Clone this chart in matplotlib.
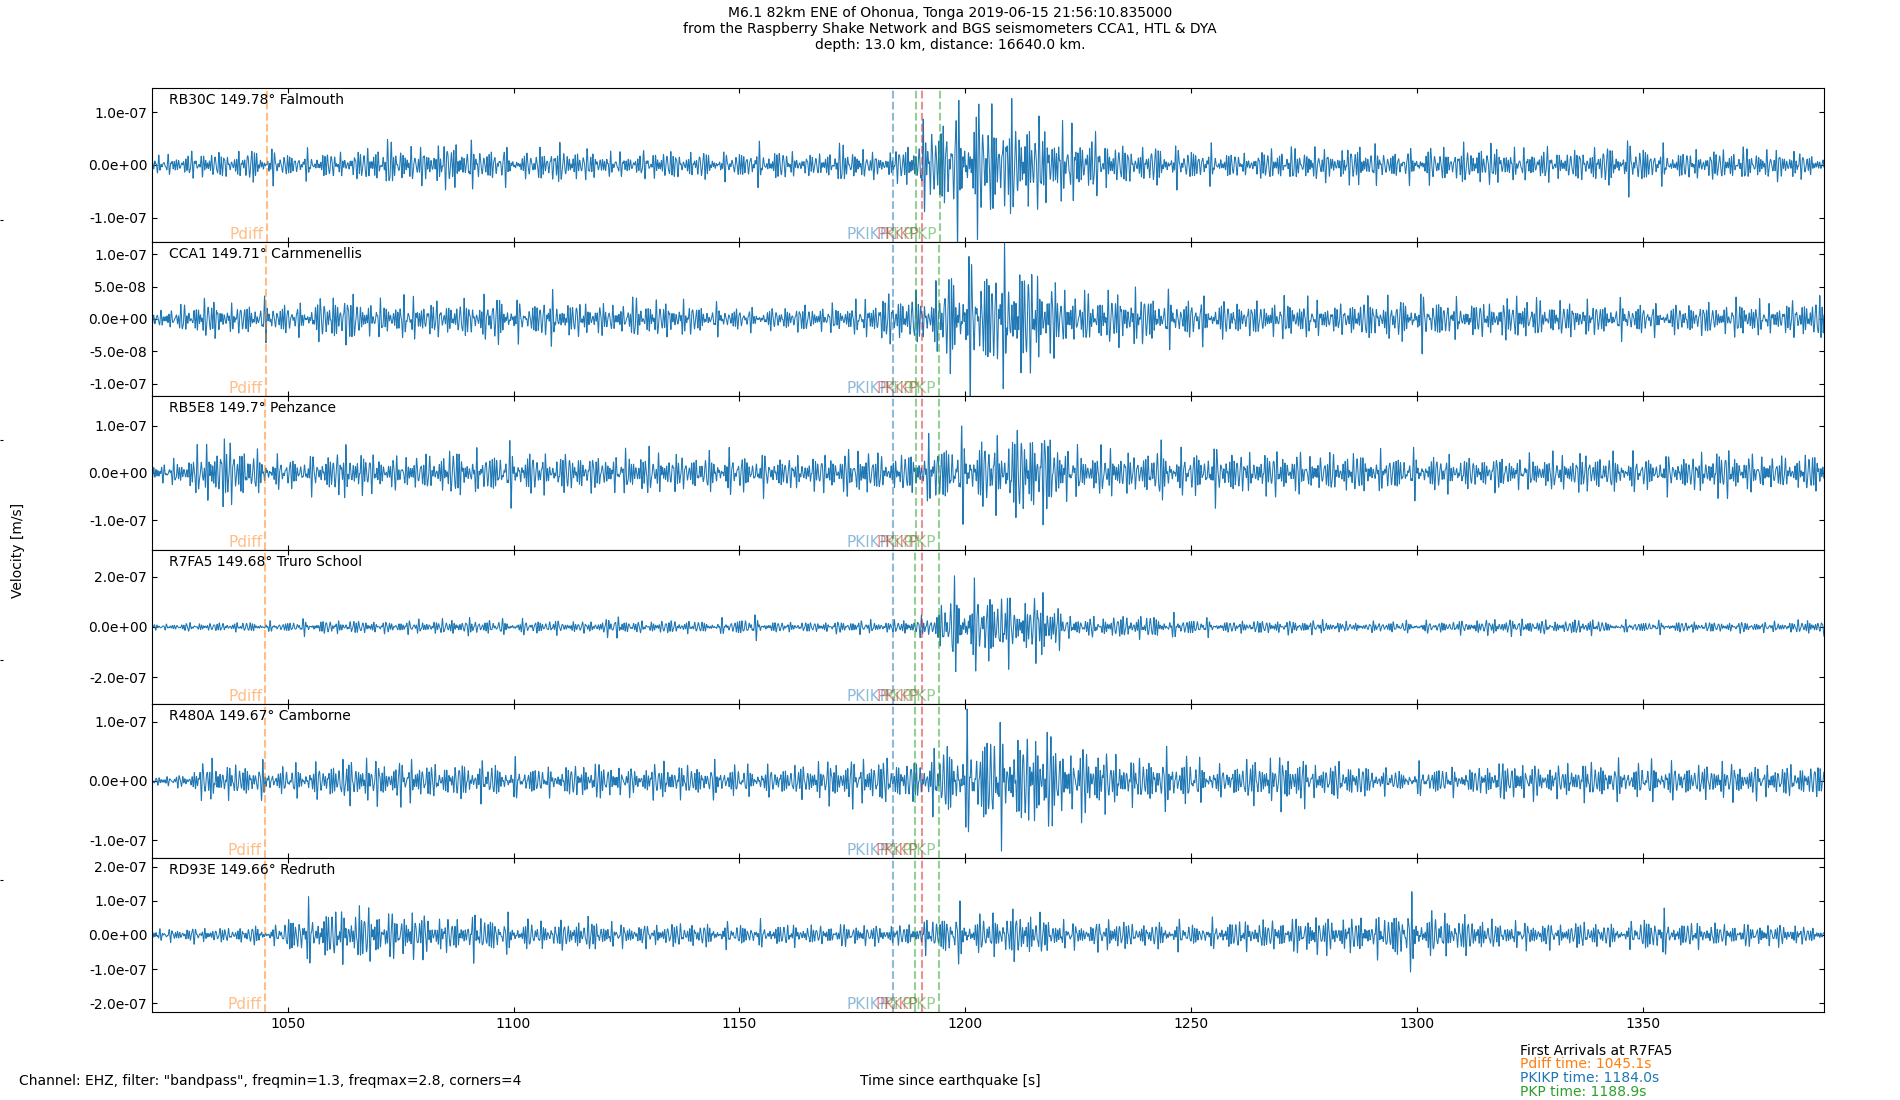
import matplotlib
matplotlib.use("Agg")
import matplotlib.pyplot as plt
import numpy as np
from matplotlib.ticker import FormatStrFormatter
from matplotlib.transforms import blended_transform_factory

# --- stations (top to bottom) ---
stations = ["RB30C", "CCA1", "RB5E8", "R7FA5", "R480A", "RD93E"]
distances = ["149.78", "149.71", "149.7", "149.68", "149.67", "149.66"]
places = ["Falmouth", "Carnmenellis", "Penzance", "Truro School", "Camborne", "Redruth"]

# peak amplitude (x1e-8 m/s), one value per 5 s from 1020 s to 1390 s
env_start, env_step = 1020, 5
envelopes = [
    [1.5, 2, 2.5, 2.2, 3.0, 2.5, 2, 2.5, 2, 3,
     4, 3, 3.5, 4.5, 3, 3, 2, 3.5, 3, 2.5,
     2, 2, 2.8, 2.2, 2.5, 2, 3, 3, 2, 2,
     3.5, 2.5, 2, 4, 8, 10, 11, 10, 9, 7.5,
     6.5, 5.5, 4, 3, 3.5, 3, 3, 2.5, 1.8, 3,
     2.8, 3, 2.5, 4, 2.5, 2.5, 3, 3, 3.5, 3.5,
     2.5, 3, 2.5, 3, 3.5, 4, 3, 2.5, 2.5, 2.8,
     2.8, 2.5, 2.8, 1.8],
    [1.3, 2, 3, 2, 2.5, 2.5, 2, 3, 4, 2.5,
     2.5, 3, 2.5, 2.5, 3, 3.5, 2, 3.5, 2.5, 2.5,
     2, 3, 2.5, 2.5, 2, 1.8, 1.5, 1.5, 2, 1.8,
     2, 2.5, 3.5, 3.5, 4, 8, 8.5, 8.5, 8.5, 6.5,
     4, 3.5, 4, 4, 3.5, 3, 3, 2.5, 2.5, 2.5,
     3, 2.5, 2, 3, 3, 3, 3.5, 2.5, 2.5, 2.5,
     3.5, 2.5, 2.5, 2.5, 2.2, 2.5, 2, 2, 2.5, 2,
     3, 2, 2.5, 3],
    [1.8, 3, 6, 7, 4, 3, 3, 3.5, 5, 4,
     3, 3.5, 3.5, 5, 3.5, 5, 4.5, 3.5, 4, 3.5,
     3.5, 4.5, 4, 3.5, 3.5, 4, 3.5, 3.5, 3, 3.5,
     4, 5, 3, 4, 6, 7, 7, 7, 9.5, 9,
     5, 4, 5, 3.5, 5.5, 4, 4.5, 5, 3.5, 4.5,
     4, 3.5, 4, 4, 3.5, 4, 3.5, 3.5, 3, 3.5,
     3, 3.5, 3.5, 4, 3.5, 3.5, 3, 3.5, 3.5, 5,
     3.5, 3.5, 3, 4],
    [1.0, 1.5, 1.5, 1.8, 1.8, 1.5, 2.5, 2.5, 2.5, 2.5,
     2, 2.5, 2.5, 3, 2.8, 2.5, 2.5, 2.5, 2.2, 2,
     4, 2, 2.5, 2.5, 2, 2.5, 4, 2, 1.8, 2,
     2.2, 2.5, 2, 3, 4, 15, 14, 14, 9, 14,
     4, 3.5, 4, 4.5, 4, 3.5, 3, 2, 2.5, 2.5,
     2.5, 2.5, 2, 1.5, 2.2, 2, 2, 2.2, 2.5, 3,
     3, 2.5, 2.2, 3.5, 1.5, 2, 2, 2, 2, 1.8,
     2, 1.8, 2, 3],
    [0.8, 1.0, 3.5, 2.5, 2.8, 2, 2.5, 2.5, 3.5, 3.5,
     3, 3.5, 2.5, 2.8, 3, 2.5, 2.5, 2, 2.5, 3,
     2.5, 2, 3, 2.5, 2.5, 2.5, 2.2, 2.2, 2.5, 3,
     3.5, 3.5, 3.5, 3, 4.5, 6.5, 8, 8.5, 7, 9,
     4.5, 6, 4, 3.5, 4, 4, 3, 2, 3.5, 3.5,
     4.5, 2.5, 3, 2.5, 2.0, 1.5, 2.5, 2, 2, 3,
     3, 2.5, 2.5, 3, 2.8, 2.5, 3, 2.5, 2.5, 3,
     2.5, 2.5, 2.5, 2.5],
    [1.5, 2, 2, 2, 2.5, 2.2, 7, 7, 7, 8,
     6, 7, 5, 4.5, 6, 4.5, 4, 3.5, 4, 4.5,
     3, 3, 3, 3.5, 3, 3, 3, 3, 3, 2.5,
     3, 3, 2.5, 3, 4.5, 7, 5, 6, 7, 5,
     3.5, 3, 5, 3, 3.5, 3.5, 2.8, 4, 4, 4,
     4.5, 5.5, 4.5, 5, 5, 9, 6, 5.5, 5, 3.5,
     3.5, 3.5, 3, 4, 3, 3, 6, 3.5, 3.5, 3,
     3, 3, 3, 2],
]

# y limits and ticks per panel
ylims = [1.46e-7, 1.19e-7, 1.63e-7, 3.06e-7, 1.30e-7, 2.25e-7]
yticks = [
    [-1e-7, 0, 1e-7],
    [-1e-7, -5e-8, 0, 5e-8, 1e-7],
    [-1e-7, 0, 1e-7],
    [-2e-7, 0, 2e-7],
    [-1e-7, 0, 1e-7],
    [-2e-7, -1e-7, 0, 1e-7, 2e-7],
]

# phase arrival times [s] per station
phase_names = ["Pdiff", "PKIKP", "PKP", "PKiKP", "PKP"]
phase_colors = ["C1", "C0", "C2", "C3", "C2"]
phase_times = [
    [1045.4, 1045.2, 1045.1, 1045.1, 1044.9, 1044.9],
    [1184.0, 1184.0, 1184.0, 1184.0, 1183.9, 1183.9],
    [1189.1, 1189.0, 1189.0, 1188.9, 1188.8, 1188.8],
    [1190.5, 1190.4, 1190.4, 1190.4, 1190.3, 1190.3],
    [1194.4, 1194.2, 1194.1, 1194.1, 1194.1, 1194.1],
]

t_min, t_max, fs = 1020, 1390, 100
xticks = [1050, 1100, 1150, 1200, 1250, 1300, 1350]

# the carrier only gives the wiggly look, amplitudes come from the envelopes above
carrier_freqs = [0.97, 1.13, 1.36, 1.52, 1.79, 2.04, 2.31]

t = np.arange(t_min, t_max, 1.0 / fs)
env_centres = env_start + env_step * (np.arange(len(envelopes[0])) + 0.5)

fig, axes = plt.subplots(len(stations), 1, figsize=(19, 11), dpi=100, sharex=True)
fig.subplots_adjust(left=0.08, right=0.96, top=0.92, bottom=0.08, hspace=0)

for i, ax in enumerate(axes):
    carrier = np.zeros_like(t)
    for k, f in enumerate(carrier_freqs):
        carrier += np.sin(2 * np.pi * f * t + (k + 1) * (i + 1) * 2.39996)
    carrier /= carrier.std() * 2.25
    env = np.interp(t, env_centres, envelopes[i]) * 1e-8
    ax.plot(t, env * carrier, color="C0", lw=0.75)

    ax.set_ylim(-ylims[i], ylims[i])
    ax.set_yticks(yticks[i])
    ax.yaxis.set_major_formatter(FormatStrFormatter("%.1e"))
    ax.set_xlim(t_min, t_max)
    ax.set_xticks(xticks)
    ax.tick_params(direction="in", top=True, right=True, labelsize=10)

    ax.text(0.01, 0.97, f"{stations[i]} {distances[i]}° {places[i]}",
            transform=ax.transAxes, ha="left", va="top", fontsize=10)

    trans = blended_transform_factory(ax.transData, ax.transAxes)
    for name, col, times in zip(phase_names, phase_colors, phase_times):
        ax.axvline(times[i], color=col, ls="--", alpha=0.5)
        ax.text(times[i] - 0.7, 0.0, name, transform=trans, color=col, alpha=0.5,
                ha="right", va="bottom", fontsize=11)

# faint full-figure axes (left-edge marks)
bg = fig.add_axes([0, 0, 1, 1], frameon=False, zorder=-1)
bg.set_xticks([])
bg.set_yticks([0.2, 0.4, 0.6, 0.8])
bg.tick_params(axis="y", direction="in", length=2, labelleft=False)
bg.patch.set_alpha(0)

fig.suptitle("M6.1 82km ENE of Ohonua, Tonga 2019-06-15 21:56:10.835000\n"
             "from the Raspberry Shake Network and BGS seismometers CCA1, HTL & DYA\n"
             "depth: 13.0 km, distance: 16640.0 km.", y=0.995, va="top", fontsize=10)

fig.text(0.0095, 0.5, "Velocity [m/s]", rotation=90, ha="center", va="center", fontsize=10)
fig.text(0.5, 0.0173, "Time since earthquake [s]", ha="center", va="center", fontsize=10)
fig.text(0.01, 0.0173, 'Channel: EHZ, filter: "bandpass", freqmin=1.3, freqmax=2.8, corners=4',
         ha="left", va="center", fontsize=10)

fig.text(0.8, 0.0445, "First Arrivals at R7FA5", ha="left", va="center", fontsize=10)
fig.text(0.8, 0.0327, "Pdiff time: 1045.1s", color="C1", ha="left", va="center", fontsize=10)
fig.text(0.8, 0.0200, "PKIKP time: 1184.0s", color="C0", ha="left", va="center", fontsize=10)
fig.text(0.8, 0.0073, "PKP time: 1188.9s", color="C2", ha="left", va="center", fontsize=10)

fig.savefig("out.png", dpi=100)
